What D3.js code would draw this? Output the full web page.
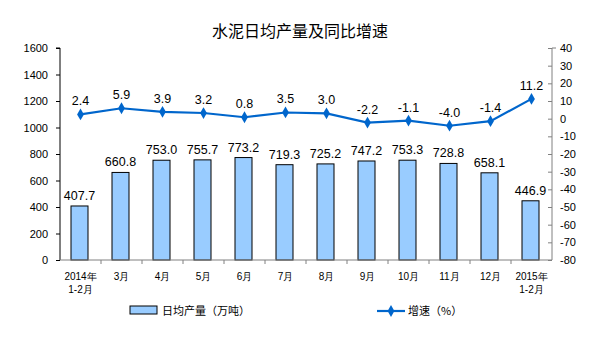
<!DOCTYPE html>
<html>
<head>
<meta charset="utf-8">
<script src="https://cdn.jsdelivr.net/npm/d3@7"></script>
<style>
  body { margin: 0; background: #fff; }
  svg text { font-family: "Liberation Sans", Arial, "Noto Sans CJK SC", sans-serif; }
</style>
</head>
<body>
<svg id="chart" width="589" height="347"></svg>
<script>
// Monthly cement output (daily average) and year-on-year growth
const categories = ["2014年\n1-2月", "3月", "4月", "5月", "6月", "7月", "8月", "9月", "10月", "11月", "12月", "2015年\n1-2月"];
const dailyOutput = [407.7, 660.8, 753.0, 755.7, 773.2, 719.3, 725.2, 747.2, 753.3, 728.8, 658.1, 446.9];
const growthRate = [2.4, 5.9, 3.9, 3.2, 0.8, 3.5, 3.0, -2.2, -1.1, -4.0, -1.4, 11.2];
const leftTicks = [0, 200, 400, 600, 800, 1000, 1200, 1400, 1600];
const rightTicks = [-80, -70, -60, -50, -40, -30, -20, -10, 0, 10, 20, 30, 40];

const svg = d3.select("#chart");
const plotLeft = 60, plotRight = 552, plotTop = 48, plotBottom = 260;
const lineColor = "#0066CC";
const cjk = '"Noto Sans CJK SC", sans-serif';
const latin = '"Liberation Sans", Arial, sans-serif';
// plain hyphen minus instead of d3's typographic minus
const fmt1 = d => d.toFixed(1);
const fmt0 = d => String(d);

const x = d3.scaleBand().domain(categories).range([plotLeft, plotRight]).paddingInner(0).paddingOuter(0);
const yL = d3.scaleLinear().domain([0, 1600]).range([plotBottom, plotTop]);
const yR = d3.scaleLinear().domain([-80, 40]).range([plotBottom, plotTop]);
const barW = 17;

// title
svg.append("text").attr("x", 300).attr("y", 37).attr("text-anchor", "middle")
  .style("font-family", cjk).style("font-size", "16px").attr("fill", "#000")
  .text("水泥日均产量及同比增速");

// left axis
const axL = svg.append("g").attr("transform", `translate(${plotLeft},0)`)
  .call(d3.axisLeft(yL).tickValues(leftTicks).tickSize(4).tickFormat(fmt0));
axL.select(".domain").attr("stroke", "#000").attr("d", `M-4,${plotTop}H0V${plotBottom}`);
axL.selectAll(".tick line").attr("stroke", "#000").attr("x2", -4);
axL.selectAll(".tick text").attr("x", -12).style("font-size", "11px").attr("fill", "#000")
  .style("font-family", latin);

// right axis
const axR = svg.append("g").attr("transform", `translate(${plotRight},0)`)
  .call(d3.axisRight(yR).tickValues(rightTicks).tickSize(4).tickFormat(fmt0));
axR.select(".domain").attr("stroke", "#808080").attr("d", `M4,${plotTop}H0V${plotBottom}`);
axR.selectAll(".tick line").attr("stroke", "#808080").attr("x1", -4).attr("x2", 0);
axR.selectAll(".tick text").attr("x", 8).style("font-size", "11px").attr("fill", "#000")
  .style("font-family", latin);

// bars
svg.append("g").selectAll("rect").data(dailyOutput).join("rect")
  .attr("x", (d, i) => x(categories[i]) + x.bandwidth() / 2 - barW / 2 - 1)
  .attr("y", d => yL(d))
  .attr("width", barW)
  .attr("height", d => yL(0) - yL(d))
  .attr("fill", "#99CCFF").attr("stroke", "#000").attr("stroke-width", 1);

// bar value labels
svg.append("g").selectAll("text").data(dailyOutput).join("text")
  .attr("x", (d, i) => x(categories[i]) + x.bandwidth() / 2 - 1)
  .attr("y", d => yL(d) - 6)
  .attr("text-anchor", "middle").style("font-size", "12.5px").attr("fill", "#000")
  .style("font-family", latin)
  .text(fmt1);

// x axis baseline and category ticks
const xAxis = svg.append("g").attr("transform", `translate(0,${plotBottom})`)
  .call(d3.axisBottom(x).tickSize(0).tickFormat(""));
xAxis.select(".domain").attr("stroke", "#808080").attr("d", `M${plotLeft},0H${plotRight}`);
svg.append("g").selectAll("line").data(categories.slice(1)).join("line")
  .attr("x1", d => x(d)).attr("x2", d => x(d))
  .attr("y1", plotBottom).attr("y2", plotBottom + 4).attr("stroke", "#808080");

// category labels, one text per line
const labelRows = categories.flatMap(c => c.split("\n").map((p, j) => ({ c, p, j })));
svg.append("g").selectAll("text").data(labelRows).join("text")
  .attr("x", d => x(d.c) + x.bandwidth() / 2)
  .attr("y", d => 280 + d.j * 13)
  .attr("text-anchor", "middle").style("font-size", "10px").attr("fill", "#000")
  .style("font-family", latin)
  .text(d => d.p);

// growth line
const cx = (i) => x(categories[i]) + x.bandwidth() / 2;
const line = d3.line().x((d, i) => cx(i)).y(d => yR(d));
svg.append("path").datum(growthRate).attr("d", line)
  .attr("fill", "none").attr("stroke", lineColor).attr("stroke-width", 2.2);

const diamond = d3.symbol().type(d3.symbolDiamond).size(40);
svg.append("g").selectAll("path").data(growthRate).join("path")
  .attr("d", diamond)
  .attr("transform", (d, i) => `translate(${cx(i)},${yR(d)})`)
  .attr("fill", lineColor);

svg.append("g").selectAll("text").data(growthRate).join("text")
  .attr("x", (d, i) => cx(i))
  .attr("y", d => yR(d) - 9)
  .attr("text-anchor", "middle").style("font-size", "12.5px").attr("fill", "#000")
  .style("font-family", latin)
  .text(fmt1);

// legend
const lg = svg.append("g");
lg.append("rect").attr("x", 130).attr("y", 306).attr("width", 27).attr("height", 8)
  .attr("fill", "#99CCFF").attr("stroke", "#000");
lg.append("text").attr("x", 162).attr("y", 315).style("font-size", "11px")
  .style("font-family", cjk).attr("fill", "#000").text("日均产量（万吨）");
lg.append("line").attr("x1", 377).attr("x2", 405).attr("y1", 311).attr("y2", 311)
  .attr("stroke", lineColor).attr("stroke-width", 2.2);
lg.append("path").attr("d", diamond).attr("transform", "translate(391,311)").attr("fill", lineColor);
lg.append("text").attr("x", 408).attr("y", 315).style("font-size", "11px")
  .style("font-family", cjk).attr("fill", "#000").text("增速（%）");
</script>
</body>
</html>
